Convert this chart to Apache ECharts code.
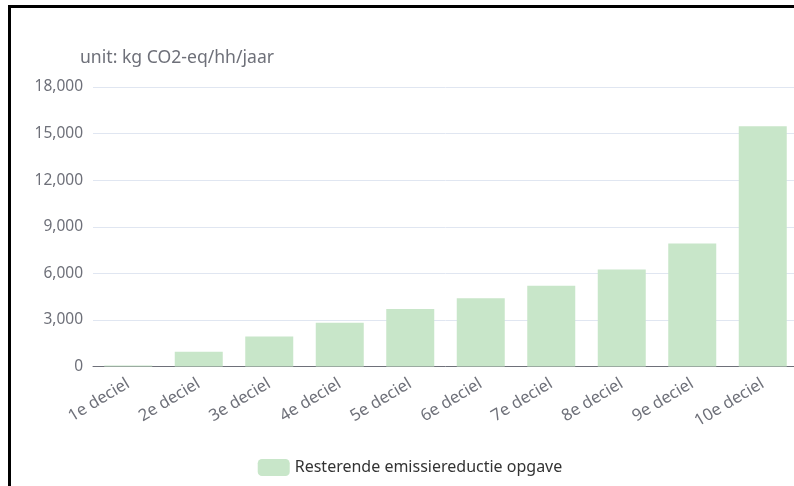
<!DOCTYPE html>
<html>
<head>
<meta charset="utf-8">
<script src="https://cdn.jsdelivr.net/npm/echarts@6/dist/echarts.min.js"></script>
<style>
  html, body { margin:0; padding:0; width:794px; height:486px; overflow:hidden; background:#fff; }
  #frame { position:absolute; left:8px; top:5px; width:900px; height:600px; border-top:3px solid #000; border-left:3px solid #000; }
  #chart { position:absolute; left:11px; top:8px; width:798px; height:478px; }
</style>
</head>
<body>
<div id="frame"></div>
<div id="chart"></div>
<script>
const categories = ['1e deciel','2e deciel','3e deciel','4e deciel','5e deciel','6e deciel','7e deciel','8e deciel','9e deciel','10e deciel'];
const seriesName = 'Resterende emissiereductie opgave';
const values = [60, 950, 1930, 2820, 3700, 4400, 5200, 6240, 7920, 15480];
const yAxisName = 'unit: kg CO2-eq/hh/jaar';

const chart = echarts.init(document.getElementById('chart'), null, { renderer: 'canvas' });
const font = '"Noto Sans", "Open Sans", sans-serif';
chart.setOption({
  animation: false,
  textStyle: { fontFamily: font },
  grid: { left: 82, right: 11, top: 79, bottom: 119.5, containLabel: false },
  legend: {
    data: [seriesName],
    left: 'center',
    top: 446,
    itemWidth: 32,
    itemHeight: 17,
    itemGap: 8,
    textStyle: { fontSize: 16, color: '#333', fontFamily: font }
  },
  xAxis: {
    type: 'category',
    data: categories,
    axisLine: { lineStyle: { color: '#6E7079' } },
    axisTick: { length: 6, lineStyle: { color: '#6E7079' } },
    axisLabel: { rotate: 31, fontSize: 16.5, color: '#6E7079', margin: 16, fontFamily: font }
  },
  yAxis: {
    type: 'value',
    min: 0,
    max: 18000,
    interval: 3000,
    name: yAxisName,
    nameLocation: 'end',
    nameGap: 20,
    nameTextStyle: { fontSize: 17.6, color: '#6E7079', align: 'left', padding: [0, 0, 0, -13], fontFamily: font },
    axisLabel: { fontSize: 15.5, color: '#6E7079', margin: 10, fontFamily: font,
      formatter: v => v.toLocaleString('en-US') },
    splitLine: { lineStyle: { color: '#E0E6F1' } }
  },
  series: [{
    name: seriesName,
    type: 'bar',
    data: values,
    barWidth: 48,
    itemStyle: { color: '#c8e6c9' }
  }]
});
</script>
</body>
</html>
